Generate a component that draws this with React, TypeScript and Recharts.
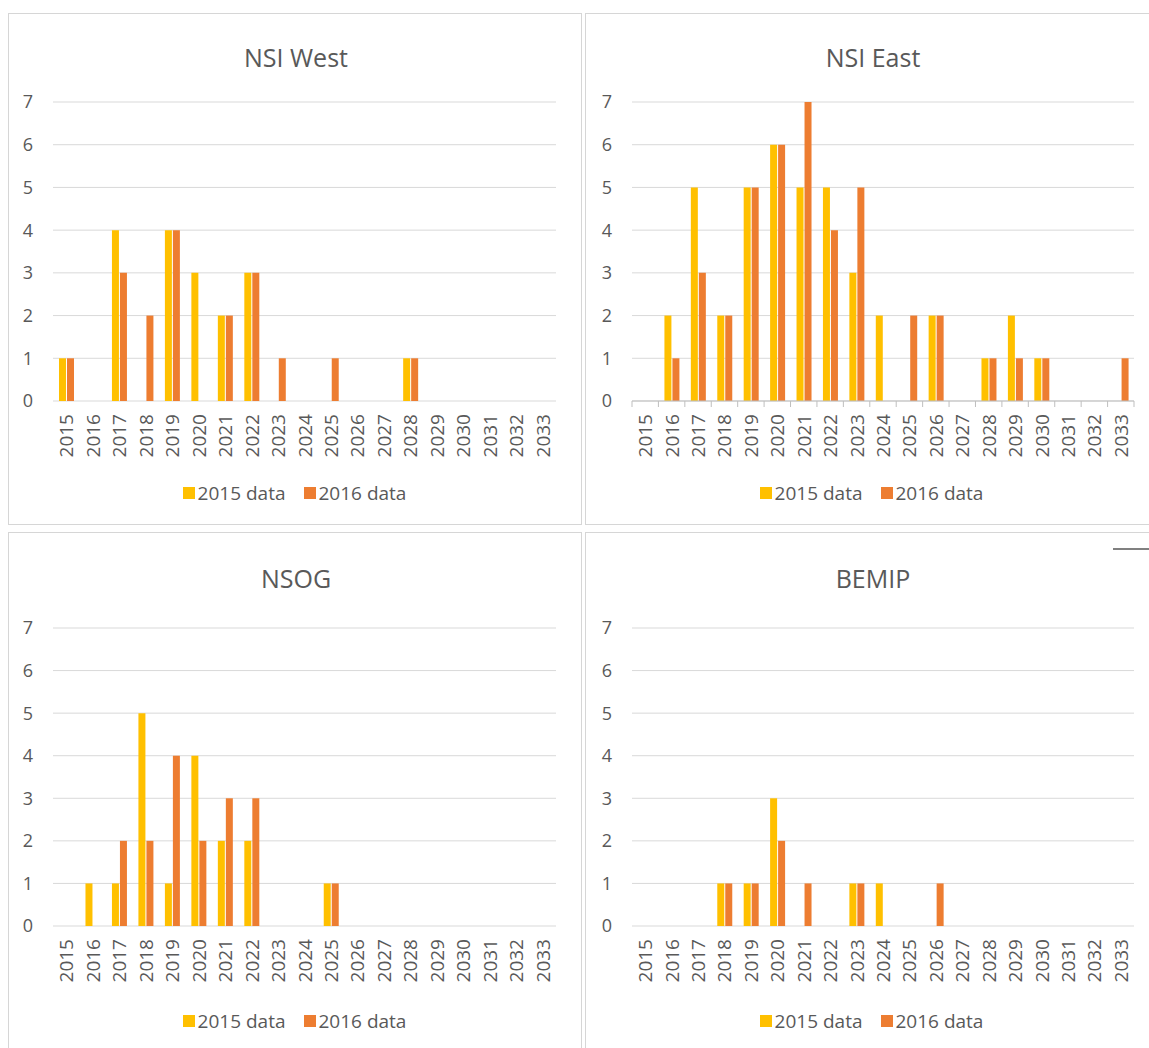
import { Bar, BarChart, CartesianGrid, Legend, XAxis, YAxis } from "recharts"

const years = [
  "2015", "2016", "2017", "2018", "2019", "2020", "2021", "2022", "2023", "2024",
  "2025", "2026", "2027", "2028", "2029", "2030", "2031", "2032", "2033",
]

const yTicks = [0, 1, 2, 3, 4, 5, 6, 7]

// counts per year, 2015 .. 2033
const westData2015 = [1, 0, 4, 0, 4, 3, 2, 3, 0, 0, 0, 0, 0, 1, 0, 0, 0, 0, 0]
const westData2016 = [1, 0, 3, 2, 4, 0, 2, 3, 1, 0, 1, 0, 0, 1, 0, 0, 0, 0, 0]

const eastData2015 = [0, 2, 5, 2, 5, 6, 5, 5, 3, 2, 0, 2, 0, 1, 2, 1, 0, 0, 0]
const eastData2016 = [0, 1, 3, 2, 5, 6, 7, 4, 5, 0, 2, 2, 0, 1, 1, 1, 0, 0, 1]

const nsogData2015 = [0, 1, 1, 5, 1, 4, 2, 2, 0, 0, 1, 0, 0, 0, 0, 0, 0, 0, 0]
const nsogData2016 = [0, 0, 2, 2, 4, 2, 3, 3, 0, 0, 1, 0, 0, 0, 0, 0, 0, 0, 0]

const bemipData2015 = [0, 0, 0, 1, 1, 3, 0, 0, 1, 1, 0, 0, 0, 0, 0, 0, 0, 0, 0]
const bemipData2016 = [0, 0, 0, 1, 1, 2, 1, 0, 1, 0, 0, 1, 0, 0, 0, 0, 0, 0, 0]

const YELLOW = "#FFC000"
const ORANGE = "#ED7D31"
const TEXT = "#595959"
const GRID = "#D9D9D9"

function YearTick(props: any) {
  const { x, payload, axisY, boundaries } = props
  const half = payload?.offset ?? 13.2
  const ty = axisY + 13
  return (
    <g>
      {boundaries && <line x1={x - half} x2={x - half} y1={axisY} y2={axisY + 6} stroke="#BFBFBF" />}
      {boundaries && payload.value === "2033" && (
        <line x1={x + half} x2={x + half} y1={axisY} y2={axisY + 6} stroke="#BFBFBF" />
      )}
      <text
        x={x}
        y={ty}
        transform={`rotate(-90, ${x}, ${ty})`}
        textAnchor="end"
        dominantBaseline="central"
        fill={TEXT}
        fontSize={19}
      >
        {payload.value}
      </text>
    </g>
  )
}

function LegendBox() {
  const item = (color: string, label: string) => (
    <span style={{ display: "inline-flex", alignItems: "center" }}>
      <span style={{ width: 12, height: 12, background: color, marginRight: 3, display: "inline-block" }} />
      <span>{label}</span>
    </span>
  )
  return (
    <div style={{ display: "flex", justifyContent: "center", gap: 18, fontSize: 19, color: TEXT, lineHeight: "24px" }}>
      {item(YELLOW, "2015 data")}
      {item(ORANGE, "2016 data")}
    </div>
  )
}

interface PanelProps {
  title: string
  s2015: number[]
  s2016: number[]
  left: number
  top: number
  width: number
  height: number
  plotTop: number
  plotBottom: number
  plotLeft: number
  plotRight: number
  titleY: number
  legendY: number
  boundaries?: boolean
}

function Panel(p: PanelProps) {
  const rows = years.map((year, i) => ({ year, d2015: p.s2015[i], d2016: p.s2016[i] }))
  const xAxisHeight = 80
  return (
    <div
      style={{
        position: "absolute",
        left: p.left,
        top: p.top,
        width: p.width,
        height: p.height,
        border: "1.5px solid #D6D6D6",
        boxSizing: "border-box",
        background: "#fff",
      }}
    >
      <div
        style={{
          position: "absolute",
          left: 0,
          width: p.width,
          top: p.titleY - 18,
          lineHeight: "36px",
          textAlign: "center",
          fontSize: 25,
          color: TEXT,
        }}
      >
        {p.title}
      </div>
      <div style={{ position: "absolute", left: -1.5, top: -1.5 }}>
        <BarChart
          width={p.width}
          height={p.height}
          data={rows}
          margin={{
            top: p.plotTop,
            left: 0,
            right: p.width - p.plotRight,
            bottom: p.height - p.plotBottom - xAxisHeight,
          }}
          barGap={1}
        >
          <CartesianGrid vertical={false} stroke={GRID} />
          <XAxis
            dataKey="year"
            interval={0}
            height={xAxisHeight}
            tickLine={false}
            tickSize={0}
            axisLine={p.boundaries ? { stroke: "#BFBFBF" } : false}
            tick={(t: any) => <YearTick {...t} axisY={p.plotBottom} boundaries={p.boundaries} />}
          />
          <YAxis
            width={p.plotLeft}
            domain={[0, 7]}
            ticks={yTicks}
            axisLine={false}
            tickLine={false}
            tickSize={0}
            tickMargin={20}
            tick={{ fill: TEXT, fontSize: 18 }}
          />
          <Legend
            verticalAlign="middle"
            align="center"
            wrapperStyle={{ top: p.legendY - 12, left: 0, width: p.width }}
            content={() => <LegendBox />}
          />
          <Bar dataKey="d2015" name="2015 data" fill={YELLOW} barSize={7} isAnimationActive={false} />
          <Bar dataKey="d2016" name="2016 data" fill={ORANGE} barSize={7} isAnimationActive={false} />
        </BarChart>
      </div>
    </div>
  )
}

export default function App() {
  return (
    <div
      style={{
        position: "absolute",
        left: 0,
        top: 0,
        width: 1149,
        height: 1048,
        overflow: "hidden",
        background: "#fff",
        fontFamily: "'Open Sans', 'Noto Sans', sans-serif",
      }}
    >
      <Panel title="NSI West" s2015={westData2015} s2016={westData2016}
        left={8} top={13} width={574} height={512}
        plotTop={89} plotBottom={388} plotLeft={45} plotRight={548}
        titleY={43} legendY={480} />
      <Panel title="NSI East" s2015={eastData2015} s2016={eastData2016}
        left={585} top={13} width={574} height={512}
        plotTop={89} plotBottom={388} plotLeft={47} plotRight={549}
        titleY={43} legendY={480} boundaries />
      <Panel title="NSOG" s2015={nsogData2015} s2016={nsogData2016}
        left={8} top={532} width={574} height={530}
        plotTop={96} plotBottom={394} plotLeft={45} plotRight={548}
        titleY={45} legendY={489} />
      <Panel title="BEMIP" s2015={bemipData2015} s2016={bemipData2016}
        left={585} top={532} width={574} height={530}
        plotTop={96} plotBottom={394} plotLeft={47} plotRight={549}
        titleY={45} legendY={489} />
      <div style={{ position: "absolute", left: 1113, top: 548, width: 40, height: 2, background: "#808080" }} />
    </div>
  )
}
